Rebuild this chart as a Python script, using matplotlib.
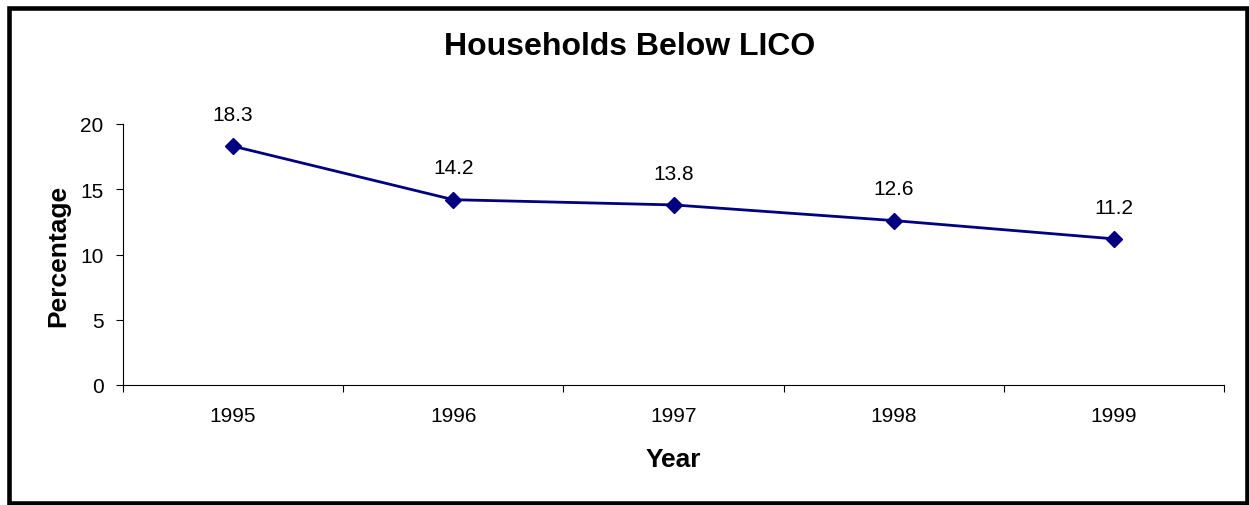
import matplotlib
matplotlib.use('Agg')
import matplotlib.pyplot as plt
from matplotlib.patches import Rectangle

years = ['1995', '1996', '1997', '1998', '1999']
percent = [18.3, 14.2, 13.8, 12.6, 11.2]
y_ticks = [0, 5, 10, 15, 20]

plt.rcParams['font.family'] = ['Liberation Sans', 'DejaVu Sans']

fig = plt.figure(figsize=(12.49, 5.06), dpi=100)
ax = fig.add_axes([123 / 1249, 120 / 506, (1224 - 123) / 1249, (386 - 125) / 506])

x = list(range(1, len(years) + 1))
ax.plot(x, percent, color='#000080', linewidth=2, marker='D', markersize=8.5,
        markerfacecolor='#000080', markeredgecolor='#000080')

# 数据标签
for xi, v in zip(x, percent):
    ax.annotate('{:.1f}'.format(v), (xi, v), xytext=(0, 16), textcoords='offset points',
                ha='center', va='bottom', fontsize=15)

ax.set_xlim(0.5, len(years) + 0.5)
ax.set_ylim(0, 20)
ax.set_yticks(y_ticks)
ax.set_yticklabels([str(t) for t in y_ticks], fontsize=15)

# 类别轴：刻度线在类别之间，标签在中间
ax.set_xticks([i + 0.5 for i in range(len(years) + 1)])
ax.set_xticklabels([])
ax.set_xticks(x, minor=True)
ax.set_xticklabels(years, minor=True, fontsize=15)
ax.tick_params(axis='x', which='minor', length=0, pad=15)
ax.tick_params(axis='x', which='major', length=5, width=0.8, direction='out')
ax.tick_params(axis='y', length=5, width=0.8, direction='out', pad=9)

for side in ['top', 'right']:
    ax.spines[side].set_visible(False)
for side in ['left', 'bottom']:
    ax.spines[side].set_linewidth(0.8)

ax.set_xlabel('Year', fontsize=19, fontweight='bold', labelpad=16)
ax.set_ylabel('Percentage', fontsize=19, fontweight='bold', labelpad=7)

fig.text(630 / 1249, 1 - 47 / 506, 'Households Below LICO', ha='center', va='center',
         fontsize=23, fontweight='bold')

# 外边框
fig.patches.append(Rectangle((9 / 1249, 2 / 506), (1247 - 9) / 1249, (504 - 9) / 506,
                             transform=fig.transFigure, fill=False, edgecolor='black',
                             linewidth=3.3))

fig.savefig('out.png', dpi=100)
